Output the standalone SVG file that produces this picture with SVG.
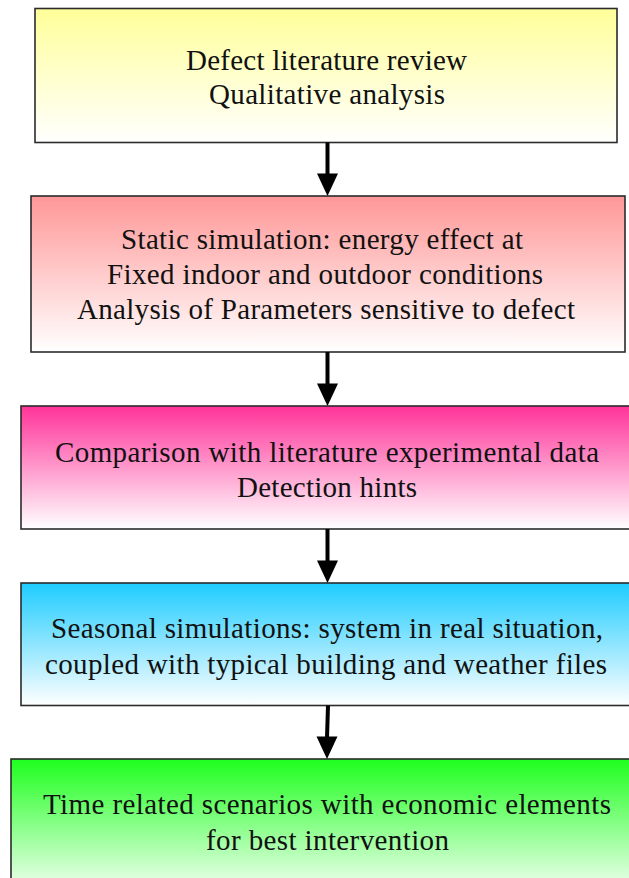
<svg xmlns="http://www.w3.org/2000/svg" width="629" height="878" viewBox="0 0 629 878">
  <style>
    .box { stroke: #2b2b2b; stroke-width: 1.6; }
    .lbl { font-family: "Liberation Serif", "Times New Roman", serif; font-size: 29px; fill: #111; text-anchor: middle; }
    .shaft { stroke: #000; stroke-width: 4; fill: none; }
    .head { fill: #000; }
  </style>
  <defs>
    <linearGradient id="gYellow" x1="0" y1="0" x2="0" y2="1">
      <stop offset="0" stop-color="#FFFF99"/>
      <stop offset="1" stop-color="#FFFFFF"/>
    </linearGradient>
    <linearGradient id="gSalmon" x1="0" y1="0" x2="0" y2="1">
      <stop offset="0" stop-color="#FF9797"/>
      <stop offset="1" stop-color="#FFFFFF"/>
    </linearGradient>
    <linearGradient id="gPink" x1="0" y1="0" x2="0" y2="1">
      <stop offset="0" stop-color="#FF3399"/>
      <stop offset="1" stop-color="#FFFFFF"/>
    </linearGradient>
    <linearGradient id="gCyan" x1="0" y1="0" x2="0" y2="1">
      <stop offset="0" stop-color="#1ECCFF"/>
      <stop offset="1" stop-color="#FFFFFF"/>
    </linearGradient>
    <linearGradient id="gGreen" x1="0" y1="0" x2="0" y2="1">
      <stop offset="0" stop-color="#1EFF1E"/>
      <stop offset="1" stop-color="#FFFFFF"/>
    </linearGradient>
  </defs>

  <rect width="629" height="878" fill="#FFFFFF"/>

  <g id="node-review">
    <rect class="box" x="35" y="8.5" width="582" height="134" fill="url(#gYellow)"/>
    <text class="lbl" x="326.5" y="69.5" textLength="281" lengthAdjust="spacing">Defect literature review</text>
    <text class="lbl" x="327" y="104" textLength="236" lengthAdjust="spacing">Qualitative analysis</text>
  </g>

  <g id="node-static">
    <rect class="box" x="31" y="196" width="594" height="156" fill="url(#gSalmon)"/>
    <text class="lbl" x="322" y="248.5" textLength="402" lengthAdjust="spacing">Static simulation: energy effect at</text>
    <text class="lbl" x="325" y="283.5" textLength="436" lengthAdjust="spacing">Fixed indoor and outdoor conditions</text>
    <text class="lbl" x="326" y="318.5" textLength="498" lengthAdjust="spacing">Analysis of Parameters sensitive to defect</text>
  </g>

  <g id="node-comparison">
    <rect class="box" x="21" y="406" width="620" height="123" fill="url(#gPink)"/>
    <text class="lbl" x="327" y="461.5" textLength="544" lengthAdjust="spacing">Comparison with literature experimental data</text>
    <text class="lbl" x="327" y="496.5" textLength="180" lengthAdjust="spacing">Detection hints</text>
  </g>

  <g id="node-seasonal">
    <rect class="box" x="21" y="583" width="620" height="122.5" fill="url(#gCyan)"/>
    <text class="lbl" x="327" y="637.5" textLength="552" lengthAdjust="spacing">Seasonal simulations: system in real situation,</text>
    <text class="lbl" x="326" y="673.5" textLength="562" lengthAdjust="spacing">coupled with typical building and weather files</text>
  </g>

  <g id="node-scenarios">
    <rect class="box" x="11" y="759" width="630" height="140" fill="url(#gGreen)"/>
    <text class="lbl" x="327" y="813.5" textLength="568" lengthAdjust="spacing">Time related scenarios with economic elements</text>
    <text class="lbl" x="327.5" y="850" textLength="243" lengthAdjust="spacing">for best intervention</text>
  </g>

  <g id="connectors">
    <line class="shaft" x1="327.5" y1="142.5" x2="327.5" y2="175"/>
    <polygon class="head" points="317,173.5 338,173.5 327.5,196"/>

    <line class="shaft" x1="327.5" y1="352" x2="327.5" y2="385"/>
    <polygon class="head" points="317,383.5 338,383.5 327.5,406"/>

    <line class="shaft" x1="327.5" y1="529" x2="327.5" y2="562"/>
    <polygon class="head" points="317,560.5 338,560.5 327.5,583"/>

    <line class="shaft" x1="328" y1="705.5" x2="327" y2="738"/>
    <polygon class="head" points="316.5,736.5 337.5,736.5 327,759"/>
  </g>
</svg>
